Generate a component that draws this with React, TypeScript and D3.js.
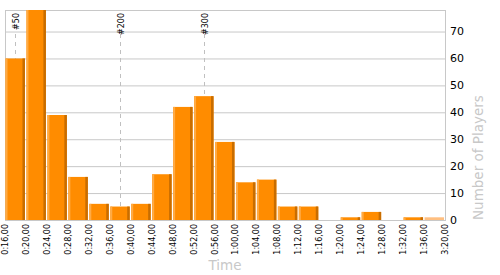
import React from "react";
import * as d3 from "d3";

// Bin edges in minutes (labels shown at each edge)
const binEdges = [16, 20, 24, 28, 32, 36, 40, 44, 48, 52, 56, 60, 64, 68, 72, 76, 80, 84, 88, 92, 96, 200];
const edgeLabels = [
  "0:16,00", "0:20,00", "0:24,00", "0:28,00", "0:32,00", "0:36,00", "0:40,00", "0:44,00",
  "0:48,00", "0:52,00", "0:56,00", "1:00,00", "1:04,00", "1:08,00", "1:12,00", "1:16,00",
  "1:20,00", "1:24,00", "1:28,00", "1:32,00", "1:36,00", "3:20,00",
];
// Number of players per bin
const counts = [60, 78, 39, 16, 6, 5, 6, 17, 42, 46, 29, 14, 15, 5, 5, 0, 1, 3, 0, 1, 1];
// Rank markers (time in minutes)
const markerLabels = ["#50", "#200", "#300"];
const markerTimes = [17.9, 38.0, 54.05];
const yTicks = [0, 10, 20, 30, 40, 50, 60, 70];

const W = 500, H = 275;
const L = 5, R = 445, T = 10, B = 220;
const font = "'DejaVu Sans', Verdana, sans-serif";

export default function App() {
  const nBins = counts.length;
  const bw = (R - L) / nBins;
  const x = d3.scaleLinear()
    .domain([16, 96, 200])
    .range([L, L + (nBins - 1) * bw, R]);
  const y = d3.scaleLinear().domain([0, 78]).range([B, T]);
  const grid = "#c8c8c8";

  return (
    <svg width={W} height={H} style={{ position: "absolute", left: 0, top: 0 }} fontFamily={font}>
      <rect x={0} y={0} width={W} height={H} fill="#fff" />
      {/* grid */}
      {yTicks.map((t) => (
        <line key={t} x1={L} x2={R} y1={y(t) + 0.5} y2={y(t) + 0.5} stroke={grid} strokeWidth={1} />
      ))}
      <line x1={L} x2={R} y1={T + 0.5} y2={T + 0.5} stroke={grid} />
      <line x1={L + 0.5} x2={L + 0.5} y1={T} y2={B} stroke={grid} />
      <line x1={R + 0.5} x2={R + 0.5} y1={T} y2={B + 1} stroke={grid} />
      {/* markers */}
      {markerTimes.map((t, i) => {
        const mx = Math.round(x(t)) + 0.5;
        return (
          <g key={i}>
            <line x1={mx} x2={mx} y1={34} y2={B} stroke="#c0c0c0" strokeDasharray="4,4" />
            <text
              transform={`translate(${mx + 3},13) rotate(-90)`}
              textAnchor="end"
              fontSize={8}
              fill="#000"
            >
              {markerLabels[i]}
            </text>
          </g>
        );
      })}
      {/* bars */}
      {counts.map((c, i) => {
        if (c <= 0) return null;
        const x0 = x(binEdges[i]) + 0.5;
        const wBar = bw - 1.5;
        const top = y(c);
        const h = B - top;
        const last = i === nBins - 1;
        if (last) {
          return <rect key={i} x={x0} y={top} width={wBar} height={h} fill="#ffbf80" />;
        }
        return (
          <g key={i}>
            <rect x={x0} y={top} width={wBar} height={h} fill="#ff8c00" />
            <rect x={x0} y={top} width={2} height={h} fill="#ffab45" />
            <rect x={x0 + wBar - 2.5} y={top} width={2.5} height={h} fill="#c86d00" />
          </g>
        );
      })}
      <line x1={L} x2={R} y1={B + 0.5} y2={B + 0.5} stroke={grid} />
      {/* right axis labels */}
      {yTicks.map((t) => (
        <text key={t} x={450} y={y(t)} dy="0.36em" fontSize={11} fill="#000">
          {t}
        </text>
      ))}
      {/* x labels */}
      {binEdges.map((e, i) => (
        <text
          key={i}
          transform={`translate(${x(e) + 3},224) rotate(-90)`}
          textAnchor="end"
          fontSize={8}
          fill="#000"
        >
          {edgeLabels[i]}
        </text>
      ))}
      {/* titles */}
      <text x={(L + R) / 2} y={270} textAnchor="middle" fontSize={13.5} fill="#c8c8c8">
        Time
      </text>
      <text
        transform={`translate(483,220) rotate(-90)`}
        textAnchor="start"
        fontSize={13.5}
        fill="#c8c8c8"
      >
        Number of Players
      </text>
    </svg>
  );
}
